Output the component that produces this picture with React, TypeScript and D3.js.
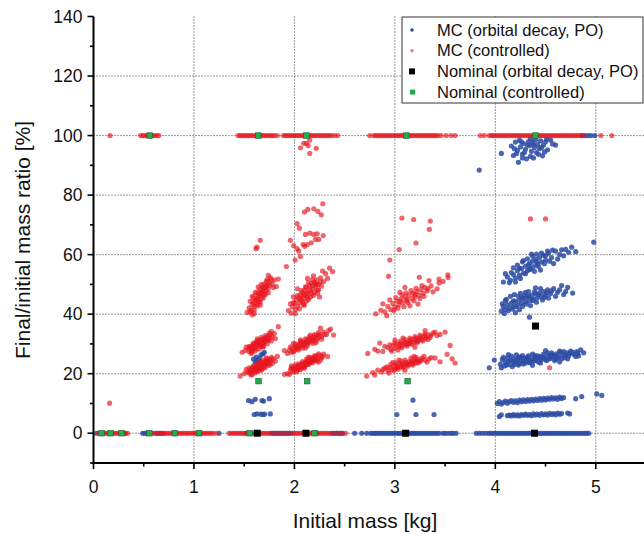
import React from "react";
import * as d3 from "d3";

// ---------- data ----------
const xTicks = [0, 1, 2, 3, 4, 5];
const xMinorTicks = [0.5, 1.5, 2.5, 3.5, 4.5];
const yTicks = [0, 20, 40, 60, 80, 100, 120, 140];
const yMinorTicks = [-10, 10, 30, 50, 70, 90, 110, 130];
const yGrid = [0, 20, 40, 60, 80, 100, 120];
const xGrid = [1, 2, 3, 4, 5];

const legendLabels = [
  "MC (orbital decay, PO)",
  "MC (controlled)",
  "Nominal (orbital decay, PO)",
  "Nominal (controlled)",
];

// MC controlled: dense bands at 0 % and 100 % (initial masses)
const redZeroX = [0.05,0.07,0.09,0.11,0.13,0.15,0.18,0.20,0.22,0.24,0.26,0.28,0.30,0.32,0.34,
  0.54,0.56,0.58,0.60,0.62,0.65,0.67,0.69,0.71,0.73,0.75,0.77,0.79,0.81,0.83,0.85,0.87,0.89,0.91,0.93,0.95,0.97,0.99,1.01,1.03,1.05,1.07,1.09,1.11,1.13,1.15,1.17,1.19,1.22,
  1.35,1.37,1.39,1.41,1.43,1.45,1.47,1.49,1.51,1.53,1.55,1.57,1.59,1.61,1.63,1.65,1.67,1.69,1.71,1.73,1.75,1.79,1.83,1.87,1.91,1.95,1.99,2.01,2.03,2.05,2.07,2.09,2.11,2.13,2.15,2.17,2.19,2.21,2.23,2.25,2.27,2.29,2.31,2.33,2.35,2.39,2.43,2.47,2.51];
const redHundredX = [0.165,0.47,0.49,0.51,0.53,0.55,0.57,0.59,0.61,0.63,0.65,
  1.44,1.46,1.48,1.50,1.52,1.54,1.56,1.58,1.60,1.62,1.64,1.66,1.68,1.70,1.72,1.74,1.76,1.78,1.80,1.83,
  1.89,1.91,1.93,1.95,1.97,1.99,2.01,2.03,2.05,2.07,2.09,2.11,2.13,2.15,2.17,2.19,2.21,2.23,2.25,2.27,2.29,2.31,2.33,2.35,2.37,2.40,2.43,
  2.75,2.79,2.81,2.83,2.85,2.87,2.89,2.91,2.93,2.95,2.97,2.99,3.01,3.03,3.05,3.07,3.09,3.11,3.13,3.15,3.17,3.19,3.21,3.23,3.25,3.27,3.29,3.31,3.33,3.35,3.37,3.39,3.41,3.43,3.46,3.51,3.56,3.60,
  3.85,3.89,3.94,3.96,3.98,4.00,4.02,4.04,4.06,4.08,4.10,4.12,4.14,4.16,4.18,4.20,4.22,4.24,4.26,4.28,4.30,4.32,4.34,4.36,4.38,4.40,4.42,4.44,4.46,4.48,4.50,4.52,4.54,4.56,4.58,4.60,4.62,4.64,4.66,4.68,4.70,4.72,4.74,4.76,4.78,4.80,4.82,4.84,4.87,5.05,5.16];

// MC controlled clusters [mass, ratio]
const red16Low = [[1.46,19.2],[1.50,20.0],[1.53,20.6],[1.55,20.2],[1.56,21.4],[1.57,20.8],[1.58,21.9],[1.59,21.0],[1.60,22.3],[1.61,21.5],[1.62,20.9],[1.62,22.8],[1.63,21.9],[1.64,22.5],[1.65,21.3],[1.65,23.2],[1.66,22.1],[1.67,23.6],[1.68,22.7],[1.69,23.1],[1.70,24.0],[1.70,22.4],[1.71,23.5],[1.72,24.4],[1.73,23.0],[1.74,24.1],[1.75,24.8],[1.76,23.6],[1.77,24.6],[1.79,25.1],[1.81,24.2],[1.83,25.8],[1.58,19.8],[1.66,24.0],[1.68,21.6],[1.52,21.5],[1.72,25.3],
  [1.55,22.0],[1.57,19.6],[1.59,22.6],[1.61,20.3],[1.63,23.4],[1.64,20.9],[1.66,23.8],[1.67,21.2],[1.69,24.5],[1.71,22.0],[1.73,25.0],[1.75,22.8],[1.77,25.5],[1.78,23.4],[1.60,21.2],[1.64,21.7],[1.68,23.2],[1.72,23.8],[1.56,20.6],[1.62,22.0],[1.70,23.0],[1.74,23.5]];
const red16Mid = [[1.48,27.2],[1.51,27.8],[1.54,28.3],[1.55,27.4],[1.56,28.9],[1.57,28.0],[1.58,29.4],[1.59,28.6],[1.60,30.0],[1.61,29.1],[1.62,28.3],[1.62,30.6],[1.63,29.6],[1.64,30.9],[1.65,29.8],[1.66,31.2],[1.66,30.2],[1.67,29.1],[1.68,31.5],[1.69,30.6],[1.70,31.9],[1.71,30.9],[1.72,32.2],[1.73,31.3],[1.74,32.6],[1.75,31.8],[1.76,33.0],[1.78,32.4],[1.80,33.5],[1.84,35.8],[1.63,31.7],[1.69,29.2],[1.58,27.2],[1.77,34.2],
  [1.55,29.2],[1.57,26.8],[1.59,30.3],[1.61,27.7],[1.63,31.0],[1.65,28.3],[1.67,32.2],[1.69,29.0],[1.71,32.8],[1.73,30.1],[1.75,33.6],[1.77,31.0],[1.60,29.0],[1.64,29.9],[1.68,30.5],[1.72,31.5],[1.58,28.0],[1.66,29.5],[1.70,30.3],[1.74,31.2],[1.52,28.9],[1.81,31.8]];
const red16Up = [[1.53,40.6],[1.55,42.1],[1.56,44.3],[1.57,41.3],[1.58,43.2],[1.59,45.5],[1.60,42.6],[1.61,44.6],[1.62,46.6],[1.62,43.4],[1.63,45.3],[1.64,47.5],[1.64,44.1],[1.65,46.2],[1.66,48.4],[1.66,45.0],[1.67,47.1],[1.68,49.2],[1.68,46.0],[1.69,48.0],[1.70,50.1],[1.70,46.8],[1.71,49.0],[1.72,51.0],[1.72,47.8],[1.73,49.8],[1.74,48.6],[1.75,50.6],[1.76,52.3],[1.78,50.2],[1.80,51.5],[1.82,49.3],[1.60,40.2],[1.66,43.0],[1.74,53.0],
  [1.56,40.8],[1.58,46.0],[1.60,41.4],[1.61,47.3],[1.63,42.8],[1.64,49.1],[1.66,44.1],[1.67,50.0],[1.69,45.4],[1.70,48.9],[1.71,46.5],[1.73,51.6],[1.74,47.2],[1.77,51.5],[1.79,49.0],[1.62,45.0],[1.65,46.8],[1.68,47.6],[1.72,49.5],[1.59,43.9],[1.75,49.6],[1.58,39.8],[1.84,51.8]];
const red21Low = [[1.93,20.0],[1.96,21.3],[1.98,20.6],[1.99,21.9],[2.00,20.9],[2.02,22.0],[2.03,21.2],[2.04,22.6],[2.05,21.6],[2.06,23.0],[2.07,22.1],[2.08,23.4],[2.09,22.4],[2.10,23.7],[2.11,22.9],[2.12,24.1],[2.13,23.2],[2.14,24.5],[2.15,23.6],[2.16,24.8],[2.17,23.9],[2.18,25.2],[2.19,24.4],[2.20,25.5],[2.21,24.6],[2.22,25.9],[2.23,25.0],[2.25,26.2],[2.27,25.4],[2.29,26.6],[2.33,25.8],[2.10,21.8],[2.14,25.6],[2.01,23.0],[2.24,23.9],[1.97,22.6],
  [1.95,19.8],[1.97,21.9],[2.00,22.1],[2.02,20.6],[2.04,23.3],[2.06,21.4],[2.08,24.1],[2.10,22.3],[2.12,24.9],[2.14,23.1],[2.16,25.4],[2.18,23.7],[2.20,26.1],[2.22,24.3],[2.24,26.7],[2.26,24.6],[2.05,22.4],[2.09,23.0],[2.13,23.8],[2.17,24.4],[2.21,25.2],[2.03,21.9],[2.11,23.3],[2.19,25.0],[2.28,25.8],[1.90,19.8]];
const red21Mid = [[1.93,26.8],[1.95,27.9],[1.97,27.2],[1.98,28.6],[2.00,27.8],[2.01,29.2],[2.03,28.4],[2.04,29.8],[2.05,28.9],[2.07,30.3],[2.08,29.4],[2.09,30.8],[2.10,29.9],[2.12,31.2],[2.13,30.3],[2.14,31.6],[2.15,30.7],[2.17,32.0],[2.18,31.1],[2.19,32.4],[2.20,31.5],[2.22,32.9],[2.23,31.9],[2.25,33.3],[2.27,32.5],[2.29,34.0],[2.32,33.2],[2.36,35.0],[2.11,28.6],[2.16,33.0],[2.06,31.4],[2.21,30.3],[2.26,35.3],[1.99,30.2],
  [1.96,29.0],[1.99,27.3],[2.01,30.0],[2.04,28.0],[2.06,30.9],[2.08,28.6],[2.11,31.7],[2.13,29.4],[2.15,32.4],[2.18,30.2],[2.20,33.1],[2.22,31.0],[2.24,33.8],[2.27,31.6],[2.30,33.1],[2.05,29.6],[2.09,30.1],[2.14,30.9],[2.19,31.7],[2.24,32.6],[2.02,28.8],[2.12,30.5],[2.16,31.3],[2.34,34.5],[1.90,27.8],[2.39,33.0]];
const red21Up = [[1.94,41.2],[1.97,40.3],[1.98,42.4],[2.00,43.6],[2.01,41.5],[2.02,44.8],[2.03,42.7],[2.04,45.6],[2.05,43.8],[2.06,46.5],[2.07,44.6],[2.08,47.3],[2.09,45.4],[2.10,48.1],[2.10,43.2],[2.11,46.2],[2.12,49.0],[2.13,47.0],[2.14,44.9],[2.15,49.6],[2.16,47.8],[2.17,50.3],[2.18,48.5],[2.19,46.3],[2.20,50.8],[2.21,49.1],[2.22,51.5],[2.23,48.0],[2.24,50.0],[2.26,52.2],[2.27,49.4],[2.29,51.0],[2.31,53.6],[2.35,55.5],[2.03,48.5],[2.25,45.8],[2.28,54.5],[2.13,52.0],[2.19,52.9],[1.99,45.8],
  [1.99,43.9],[2.01,40.2],[2.03,46.2],[2.05,41.8],[2.07,47.9],[2.09,43.0],[2.11,49.2],[2.12,44.4],[2.14,50.6],[2.16,45.8],[2.18,51.6],[2.20,47.3],[2.22,49.9],[2.24,48.2],[2.26,50.8],[2.06,45.1],[2.09,46.4],[2.12,47.2],[2.15,48.2],[2.18,49.6],[2.21,50.2],[2.08,44.0],[2.13,45.7],[2.17,46.9],[2.23,47.0],[2.33,52.0],[1.96,43.5],[2.38,54.3]];
const red31Low = [[2.72,19.2],[2.78,20.4],[2.83,21.2],[2.87,20.6],[2.90,21.9],[2.93,21.0],[2.95,22.1],[2.97,21.4],[2.99,22.6],[3.00,21.7],[3.02,22.9],[3.03,22.0],[3.05,23.2],[3.06,22.3],[3.08,23.5],[3.09,22.6],[3.11,23.8],[3.12,22.9],[3.14,24.0],[3.15,23.2],[3.17,24.3],[3.18,23.4],[3.20,24.6],[3.21,23.7],[3.23,24.9],[3.25,24.1],[3.27,25.2],[3.30,24.6],[3.36,25.4],[3.45,24.0],[3.52,26.5],[3.57,25.0],[3.04,24.6],[3.10,21.2],[3.19,25.8],[2.98,23.8],
  [2.92,22.3],[2.94,20.2],[2.96,23.1],[2.99,21.0],[3.01,23.7],[3.03,21.5],[3.06,24.2],[3.08,22.0],[3.10,24.6],[3.13,22.5],[3.16,25.2],[3.18,22.9],[3.21,25.5],[3.23,23.6],[3.26,24.5],[3.29,25.8],[3.32,23.9],[3.02,22.4],[3.07,22.9],[3.12,23.4],[3.17,23.9],[3.22,24.3],[2.88,21.4],[3.34,24.9],[2.80,19.6],[3.40,25.3],[3.60,23.6]];
const red31Mid = [[2.73,26.8],[2.80,28.2],[2.88,27.5],[2.93,28.8],[2.96,28.1],[2.98,29.4],[3.00,28.6],[3.02,29.9],[3.04,29.0],[3.06,30.3],[3.08,29.5],[3.10,30.7],[3.12,29.9],[3.14,31.1],[3.15,30.2],[3.17,31.5],[3.19,30.6],[3.21,31.9],[3.23,31.0],[3.25,32.3],[3.27,31.4],[3.29,32.7],[3.31,31.8],[3.33,33.1],[3.35,32.2],[3.38,33.6],[3.42,32.8],[3.50,34.0],[3.55,29.5],[3.08,32.0],[3.20,28.9],[3.00,31.3],[3.30,34.5],[2.85,30.3],
  [2.95,29.7],[2.97,27.6],[3.00,30.3],[3.03,28.0],[3.05,30.9],[3.07,28.7],[3.10,31.5],[3.12,29.3],[3.15,32.0],[3.17,29.9],[3.20,32.5],[3.22,30.4],[3.25,33.0],[3.28,31.0],[3.30,33.3],[3.33,31.5],[3.36,32.9],[3.05,29.5],[3.10,30.2],[3.15,30.8],[3.20,31.4],[3.25,31.9],[3.30,32.3],[2.90,29.2],[3.40,34.0],[2.83,27.6],[3.45,33.2],[3.13,30.0],[3.23,30.9]];
const red31Up = [[2.81,40.1],[2.86,41.3],[2.90,40.8],[2.93,42.6],[2.96,41.5],[2.98,43.6],[3.00,42.4],[3.02,44.4],[3.04,43.2],[3.06,45.1],[3.08,43.9],[3.10,45.8],[3.12,44.5],[3.14,46.4],[3.15,42.8],[3.17,45.2],[3.18,47.1],[3.20,45.9],[3.22,47.6],[3.24,46.4],[3.26,48.3],[3.28,47.0],[3.30,49.0],[3.32,47.8],[3.36,49.5],[3.42,48.5],[3.48,51.0],[3.53,52.3],[3.05,47.3],[3.23,43.4],[3.10,49.0],[2.95,44.8],[3.34,51.3],
  [2.99,41.2],[3.01,45.6],[3.03,42.0],[3.05,44.3],[3.07,46.5],[3.09,42.5],[3.11,47.2],[3.13,43.8],[3.16,47.9],[3.19,44.5],[3.21,48.7],[3.25,45.3],[3.27,49.6],[3.29,46.0],[3.33,48.5],[2.88,43.5],[3.38,47.5],[2.92,39.5],[3.44,50.5],[3.12,45.1],[3.20,46.6]];
const redScatter = [[2.283,77.1],[2.193,75.4],[2.233,74.5],[2.267,73.4],[2.133,75.2],[2.10,74.3],[2.027,70.4],[2.05,68.9],[2.11,66.8],[2.153,67.2],[2.193,66.8],[2.227,67],[2.287,66.4],[2.21,65.1],[2.243,65.1],[2.167,64],[2.127,63.4],[2.087,63.4],[2.103,62.8],[2.027,62],[2.043,61.2],[1.993,63],[2.06,59.4],[2.007,58.2],[1.92,56],[1.96,64.8],[1.66,64.8],[1.617,62],[1.627,62.5],
  [3.07,72.3],[3.187,71.8],[3.353,71.3],[3.343,68.5],[3.21,63.9],[3.043,61.7],[2.95,58.2],[3.527,53.2],[3.44,51.8],[3.243,52.4],[2.937,52.7],
  [2.06,95.9],[2.093,97.4],[2.12,97.4],[2.153,98.5],[2.137,96.6],[2.153,94],[2.217,95.7],
  [4.35,72],[4.5,72],[4.54,22],[0.16,10.1]];

// MC orbital decay (PO)
const blueZeroX = [0.03,0.31,0.49,0.51,0.53,0.63,0.66,0.69,1.25,1.52,1.64,1.77,1.79,1.81,1.83,1.85,1.87,1.89,1.91,1.93,1.95,1.97,2.22,2.37,2.40,2.42,2.44,2.46,2.48,
  2.60,2.67,2.72,2.76,2.78,2.80,2.82,2.84,2.86,2.88,2.90,2.92,2.94,2.96,2.98,3.00,3.02,3.04,3.06,3.08,3.10,3.12,3.14,3.16,3.18,3.20,3.22,3.24,3.26,3.28,3.30,3.32,3.34,3.36,3.38,3.40,3.42,3.44,3.48,3.50,3.53,3.56,3.58,3.61,
  3.81,3.84,3.87,3.90,3.93,3.95,3.97,3.99,4.01,4.03,4.05,4.07,4.09,4.11,4.13,4.15,4.17,4.19,4.21,4.23,4.25,4.27,4.29,4.31,4.33,4.35,4.37,4.39,4.41,4.43,4.45,4.47,4.49,4.51,4.53,4.55,4.57,4.59,4.61,4.63,4.65,4.67,4.69,4.71,4.73,4.75,4.77,4.79,4.81,4.83,4.85,4.87,4.89,4.91,4.93];
const blueHundredX = [4.86,4.89,4.92,4.95,4.99];
const blue16 = [[1.593,24.9],[1.62,25.6],[1.633,24.5],[1.653,25.2],[1.667,26.3],[1.687,26.7],[1.61,24.0],[1.643,23.7],[1.70,27.2],
  [1.543,11.0],[1.577,10.6],[1.61,11.4],[1.677,11.0],[1.693,10.8],[1.75,11.6],
  [1.60,6.3],[1.627,6.5],[1.667,6.4],[1.687,6.3],[1.703,6.4],[1.76,6.5]];
const blue31 = [[3.18,11.1],[3.02,6.3],[3.21,6.3],[3.39,6.3]];
const blue44Six = [[4.04,5.6],[4.06,6.2],[4.12,5.9],[4.14,6.1],[4.16,5.8],[4.18,6.3],[4.20,5.9],[4.22,6.2],[4.24,5.8],[4.26,6.3],[4.28,6.0],[4.30,6.4],[4.32,6.0],[4.34,6.3],[4.36,5.9],[4.38,6.5],[4.40,6.1],[4.42,6.4],[4.44,6.0],[4.46,6.6],[4.48,6.2],[4.50,6.5],[4.52,6.1],[4.54,6.7],[4.56,6.3],[4.58,6.6],[4.60,6.2],[4.62,6.8],[4.64,6.4],[4.66,6.6],[4.72,6.8],[4.74,6.5]];
const blue44Ten = [[4.02,10.0],[4.04,10.6],[4.06,9.8],[4.08,10.3],[4.10,10.8],[4.12,10.1],[4.14,10.6],[4.16,11.0],[4.18,10.4],[4.20,10.9],[4.22,10.3],[4.24,11.1],[4.26,10.6],[4.28,11.2],[4.30,10.7],[4.32,11.3],[4.34,10.8],[4.36,11.4],[4.38,10.9],[4.40,11.5],[4.42,11.0],[4.44,11.6],[4.46,11.1],[4.48,11.7],[4.50,11.2],[4.52,11.8],[4.54,11.4],[4.56,12.0],[4.58,11.5],[4.60,11.9],[4.62,11.4],[4.64,12.1],[4.66,11.7],[4.68,12.0],[4.80,11.6],[4.86,12.3],[5.01,13.2],[5.06,12.7]];
const blue44Quarter = [[3.94,22.0],[3.99,24.6],[4.05,23.2],[4.07,24.8],[4.09,22.6],[4.10,23.9],[4.12,25.3],[4.14,23.0],[4.15,24.4],[4.17,22.4],[4.18,25.0],[4.20,23.6],[4.22,24.8],[4.23,22.9],[4.25,25.5],[4.26,24.0],[4.28,23.3],[4.29,25.2],[4.31,24.5],[4.33,26.0],[4.34,23.7],[4.36,25.1],[4.38,24.3],[4.39,26.2],[4.41,25.0],[4.43,23.9],[4.44,25.8],[4.46,24.8],[4.48,26.6],[4.49,25.4],[4.51,24.4],[4.53,26.2],[4.55,25.3],[4.56,27.0],[4.58,25.9],[4.60,24.9],[4.61,26.7],[4.63,25.7],[4.65,27.2],[4.67,26.3],[4.69,25.4],[4.71,27.0],[4.73,26.0],[4.75,27.6],[4.78,26.5],[4.81,27.4],[4.83,26.0],[4.85,28.0],[4.21,26.3],[4.37,22.8],[4.50,27.8],[4.64,24.0],[4.13,26.4],
  [4.06,22.0],[4.08,25.5],[4.11,22.9],[4.13,24.2],[4.16,25.9],[4.19,23.1],[4.21,24.5],[4.24,23.4],[4.27,26.1],[4.30,23.6],[4.32,25.6],[4.35,24.0],[4.37,26.6],[4.40,24.4],[4.42,26.0],[4.45,23.6],[4.47,25.6],[4.50,24.8],[4.52,27.0],[4.54,25.0],[4.57,26.3],[4.59,24.4],[4.62,25.4],[4.64,27.6],[4.66,25.0],[4.68,27.4],[4.70,26.3],[4.72,25.0],[4.74,26.8],[4.77,27.2],[4.80,25.8],[4.82,26.9],[4.28,24.5],[4.33,24.8],[4.40,25.6],[4.45,25.2],[4.55,26.2],[4.60,26.0],[4.18,24.0],[4.24,25.6],[4.88,27.0]];
const blue44Forty = [[4.06,41.0],[4.08,42.6],[4.10,41.6],[4.12,43.2],[4.14,42.1],[4.16,43.7],[4.18,42.6],[4.20,44.3],[4.22,43.1],[4.24,44.8],[4.26,43.6],[4.28,45.3],[4.30,44.2],[4.32,45.8],[4.34,44.6],[4.34,39.0],[4.36,46.3],[4.38,45.1],[4.40,46.8],[4.42,45.5],[4.44,47.2],[4.46,46.0],[4.48,47.6],[4.50,46.4],[4.52,48.2],[4.55,46.9],[4.58,48.6],[4.62,47.4],[4.66,49.6],[4.70,47.6],[4.77,47.1],[4.10,44.6],[4.24,41.5],[4.40,48.8],[4.30,47.3],
  [4.07,43.5],[4.09,40.2],[4.11,45.0],[4.13,41.2],[4.15,46.0],[4.17,41.7],[4.19,46.6],[4.21,42.5],[4.23,46.0],[4.25,47.0],[4.27,42.6],[4.29,46.2],[4.31,43.4],[4.33,47.6],[4.35,42.9],[4.37,44.6],[4.39,47.5],[4.41,44.0],[4.43,46.4],[4.45,48.6],[4.47,44.8],[4.49,45.6],[4.51,47.2],[4.53,45.4],[4.56,47.8],[4.60,46.0],[4.64,48.2],[4.68,46.6],[4.72,49.0],[4.18,44.5],[4.26,45.5],[4.33,46.0],[4.20,40.5]];
const blue44Sixty = [[4.08,50.8],[4.12,52.5],[4.15,51.4],[4.18,53.3],[4.20,52.1],[4.22,54.6],[4.24,53.0],[4.26,55.3],[4.28,53.8],[4.30,56.1],[4.32,54.6],[4.34,57.0],[4.35,55.2],[4.37,57.8],[4.38,56.0],[4.40,58.5],[4.42,56.8],[4.44,59.0],[4.46,57.5],[4.48,59.8],[4.50,58.2],[4.53,60.4],[4.56,59.0],[4.60,61.2],[4.64,60.0],[4.70,61.8],[4.76,62.5],[4.28,58.0],[4.45,54.8],[4.18,55.6],[4.58,57.0],[4.36,60.2],[4.98,64.2],
  [4.10,53.6],[4.14,50.6],[4.16,54.0],[4.20,50.8],[4.22,56.5],[4.25,52.0],[4.27,57.6],[4.30,53.6],[4.32,58.6],[4.34,55.0],[4.37,59.5],[4.39,54.4],[4.41,60.2],[4.43,56.0],[4.46,60.5],[4.49,57.0],[4.52,61.2],[4.54,57.8],[4.57,61.5],[4.62,58.5],[4.66,61.6],[4.68,59.6],[4.73,60.8],[4.80,61.0],[4.24,55.5],[4.33,56.5],[4.41,57.6],[4.50,59.6]];
const blue44Top = [[4.06,94.0],[4.16,96.5],[4.18,93.3],[4.20,97.8],[4.22,95.0],[4.24,98.4],[4.25,96.2],[4.27,93.8],[4.28,97.3],[4.30,95.4],[4.31,92.2],[4.33,98.0],[4.34,96.6],[4.36,94.7],[4.37,97.8],[4.38,92.5],[4.39,96.0],[4.40,98.6],[4.41,94.3],[4.42,97.0],[4.44,95.6],[4.45,98.2],[4.47,93.2],[4.48,96.8],[4.50,97.9],[4.52,95.2],[4.55,98.5],[4.60,96.8],[4.23,91.0],[3.84,88.4],
  [4.19,95.6],[4.21,93.9],[4.26,97.9],[4.29,94.3],[4.32,96.9],[4.35,98.9],[4.38,97.1],[4.43,93.7],[4.46,96.0],[4.49,94.5],[4.51,98.8],[4.35,93.0],[4.27,92.5],[4.57,97.2]];

// Nominal runs
const nominalDecay = [[1.63,0],[2.115,0],[3.107,0],[4.39,0],[4.40,36]];
const nominalControlled = [[0.08,0],[0.17,0],[0.28,0],[0.555,0],[0.81,0],[1.05,0],[1.555,0],[2.2,0],
  [0.56,100],[1.64,100],[2.12,100],[3.115,100],[4.40,100],
  [1.643,17.5],[2.127,17.5],[3.127,17.5]];

const bluePoints = [
  ...blueZeroX.map((x) => [x, 0]),
  ...blueHundredX.map((x) => [x, 100]),
  ...blue16, ...blue31, ...blue44Six, ...blue44Ten, ...blue44Quarter, ...blue44Forty, ...blue44Sixty, ...blue44Top,
];
const redPoints = [
  ...redZeroX.map((x) => [x, 0]),
  ...redHundredX.map((x) => [x, 100]),
  ...red16Low, ...red16Mid, ...red16Up, ...red21Low, ...red21Mid, ...red21Up, ...red31Low, ...red31Mid, ...red31Up, ...redScatter,
];

const BLUE = "#2d4ca4";
const RED = "#e8161e";
const GREEN = "#1fae4b";
const FONT = "'Liberation Sans', Arial, sans-serif";

export default function App() {
  const W = 644, H = 534;
  const x = d3.scaleLinear().domain([0, 5.5]).range([93.5, 646]);
  const y = d3.scaleLinear().domain([-10, 140]).range([463, 16.5]);
  const x0 = x(0), yb = y(-10), yt = y(140);
  const r = 2.6;

  return (
    <svg width={W} height={H} style={{ position: "absolute", left: 0, top: 0, background: "#fff" }} fontFamily={FONT}>
      <rect width={W} height={H} fill="#fff" />
      {/* grid */}
      <g stroke="#333" strokeWidth={1} strokeDasharray="1,2">
        {yGrid.map((v) => (
          <line key={"gy" + v} x1={x0} x2={W} y1={y(v)} y2={y(v)} />
        ))}
        {xGrid.map((v) => (
          <line key={"gx" + v} x1={x(v)} x2={x(v)} y1={yt} y2={yb} />
        ))}
      </g>
      {/* MC orbital decay */}
      <g fill={BLUE} fillOpacity={0.85}>
        {bluePoints.map((p, i) => (
          <circle key={"b" + i} cx={x(p[0])} cy={y(p[1])} r={r} />
        ))}
      </g>
      {/* MC controlled */}
      <g fill={RED} fillOpacity={0.66}>
        {redPoints.map((p, i) => (
          <circle key={"r" + i} cx={x(p[0])} cy={y(p[1])} r={r} />
        ))}
      </g>
      {/* nominal */}
      {nominalDecay.map((p, i) => (
        <rect key={"nd" + i} x={x(p[0]) - 3.5} y={y(p[1]) - 3.5} width={7} height={7} fill="#000" />
      ))}
      {nominalControlled.map((p, i) => (
        <rect key={"nc" + i} x={x(p[0]) - 2.8} y={y(p[1]) - 2.8} width={5.6} height={5.6} fill={GREEN} stroke="#1b5a30" strokeWidth={0.6} />
      ))}
      {/* axes */}
      <g stroke="#000" strokeWidth={2} fill="none">
        <line x1={x0} x2={x0} y1={yt} y2={yb + 1} />
        <line x1={x0 - 1} x2={W} y1={yb} y2={yb} />
      </g>
      <g stroke="#000" strokeWidth={1.6}>
        {yTicks.map((v) => (
          <line key={"yt" + v} x1={x0 - 6} x2={x0} y1={y(v)} y2={y(v)} />
        ))}
        {yMinorTicks.map((v) => (
          <line key={"ym" + v} x1={x0 - 3.5} x2={x0} y1={y(v)} y2={y(v)} />
        ))}
        {xTicks.map((v) => (
          <line key={"xt" + v} x1={x(v)} x2={x(v)} y1={yb} y2={yb + 6} />
        ))}
        {xMinorTicks.map((v) => (
          <line key={"xm" + v} x1={x(v)} x2={x(v)} y1={yb} y2={yb + 3.5} />
        ))}
      </g>
      <g fontSize={17.5} fill="#111">
        {yTicks.map((v) => (
          <text key={"yl" + v} x={x0 - 11} y={y(v)} dy="0.35em" textAnchor="end">{v}</text>
        ))}
        {xTicks.map((v) => (
          <text key={"xl" + v} x={x(v)} y={yb + 30} textAnchor="middle">{v}</text>
        ))}
      </g>
      <text x={365} y={528} textAnchor="middle" fontSize={21} fill="#111">Initial mass [kg]</text>
      <text transform={`translate(30,240) rotate(-90)`} textAnchor="middle" fontSize={21} fill="#111">Final/initial mass ratio [%]</text>
      {/* legend */}
      <g>
        <rect x={402} y={17} width={241} height={86} fill="#fff" stroke="#333" strokeWidth={1} />
        {legendLabels.map((t, i) => {
          const cy = 30 + i * 20.7;
          return (
            <g key={"lg" + i}>
              {i === 0 && <circle cx={412} cy={cy} r={1.8} fill={BLUE} />}
              {i === 1 && <circle cx={412} cy={cy} r={1.8} fill={RED} fillOpacity={0.55} />}
              {i === 2 && <rect x={409} y={cy - 3} width={6} height={6} fill="#000" />}
              {i === 3 && <rect x={410} y={cy - 2.5} width={5} height={5} fill={GREEN} />}
              <text x={437} y={cy} dy="0.35em" fontSize={16.5} fill="#111">{t}</text>
            </g>
          );
        })}
      </g>
    </svg>
  );
}
